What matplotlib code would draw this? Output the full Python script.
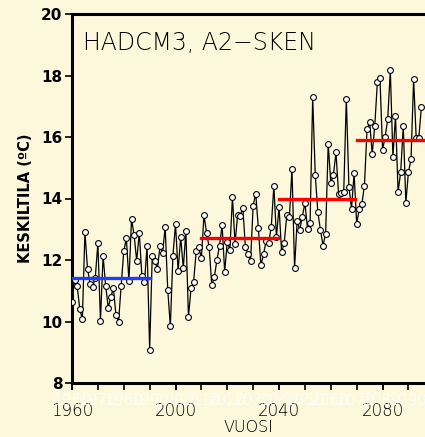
import numpy as np
import matplotlib
matplotlib.use('Agg')
import matplotlib.pyplot as plt
from matplotlib.ticker import MultipleLocator

# annual mean temperature, HadCM3 A2 scenario
years = list(range(1960, 2096))
temps = [10.64, 11.35, 11.15, 10.41, 10.08, 12.91, 11.71, 11.23, 11.12, 11.43,
	12.55, 10.02, 12.14, 11.17, 10.45, 10.80, 11.08, 10.20, 10.00, 11.17,
	12.28, 12.70, 11.32, 13.33, 12.81, 11.97, 12.89, 11.48, 11.27, 12.46,
	9.08, 12.13, 11.97, 11.71, 12.44, 12.23, 13.07, 11.02, 9.85, 12.14,
	13.17, 11.64, 12.75, 11.73, 12.94, 10.15, 11.08, 11.30, 12.30, 12.41,
	12.07, 13.46, 12.88, 12.42, 11.18, 11.44, 12.00, 12.46, 13.13, 11.61,
	12.60, 12.33, 14.05, 12.53, 13.47, 13.44, 13.70, 12.42, 12.20, 11.96,
	13.77, 14.16, 13.04, 11.83, 12.18, 12.62, 12.56, 13.08, 14.41, 12.74,
	13.73, 12.25, 12.56, 13.46, 13.40, 14.96, 11.73, 13.28, 12.98, 13.41,
	13.86, 13.02, 13.19, 17.31, 14.76, 13.55, 12.98, 12.47, 12.85, 15.78,
	14.50, 14.76, 15.50, 14.15, 14.19, 14.22, 17.25, 14.38, 13.66, 14.82,
	13.18, 13.66, 13.82, 14.42, 16.25, 16.49, 15.46, 16.37, 17.80, 17.91,
	15.58, 16.01, 16.58, 18.17, 15.36, 16.68, 14.22, 14.85, 16.35, 13.86,
	14.86, 15.27, 17.88, 15.96, 15.96, 16.97]

# period means (start, end, value)
base_period = (1960, 1990, 11.41)
future_periods = [(2010, 2039.5, 12.73), (2040, 2069.5, 13.97), (2070, 2100, 15.89)]

title_text = "HADCM3, A2\u2212SKEN"
xlabel_text = "VUOSI"
ylabel_text = "KESKILTILA (\u00baC)"
bg = '#fdf8dc'


def plot_series(out='out.png'):
	fig = plt.figure(figsize=(4.25, 4.37), dpi=100)
	fig.patch.set_facecolor(bg)
	ax = fig.add_axes([72/425., 1-383/437., 1-72/425., (383-14)/437.])
	ax.set_facecolor(bg)

	ax.plot(years, temps, color='black', lw=0.9, marker='o', ms=4.2,
		mfc='white', mec='black', mew=0.8, zorder=3)
	ax.plot([base_period[0], base_period[1]], [base_period[2]]*2, color='#1f3cff', lw=2.4, zorder=4)
	for s, e, v in future_periods:
		ax.plot([s, e], [v, v], color='#ff0000', lw=2.4, zorder=4)

	ax.set_xlim(1960, 2096.4)
	ax.set_ylim(8, 20)
	ax.xaxis.set_major_locator(MultipleLocator(40))
	ax.xaxis.set_minor_locator(MultipleLocator(10))
	ax.xaxis.remove_overlapping_locs = False
	ax.yaxis.set_major_locator(MultipleLocator(2))

	for side in ['left', 'bottom', 'top']:
		ax.spines[side].set_linewidth(2.2)
	ax.spines['right'].set_visible(False)

	ax.tick_params(axis='x', which='major', direction='out', length=5, width=1.2,
		labelsize=12, pad=9)
	# faint white decade labels drawn behind the black ones, as in the original
	ax.tick_params(axis='x', which='minor', direction='out', length=5, width=1.2,
		labelsize=11, pad=2, labelcolor='white')
	ax.xaxis.set_minor_formatter(lambda v, p: "%d" % v)
	ax.tick_params(axis='y', which='major', direction='out', length=5, width=1.2,
		labelsize=11, pad=2)
	for lab in ax.get_yticklabels():
		lab.set_fontweight('bold')
	for lab in ax.get_xticklabels():
		lab.set_fontweight('light')
	for lab in ax.get_xticklabels(minor=True):
		lab.set_fontweight('light')

	ax.set_xlabel(xlabel_text, fontsize=11.5, fontweight='light', labelpad=0)
	ax.set_ylabel(ylabel_text, fontsize=10.5, fontweight='bold', labelpad=6)
	ax.text(0.03, 0.955, title_text, transform=ax.transAxes, fontsize=17,
		fontweight='light', ha='left', va='top')

	plt.savefig(out, dpi=100, facecolor=bg)
	plt.close()


if __name__ == "__main__":
	plot_series()
